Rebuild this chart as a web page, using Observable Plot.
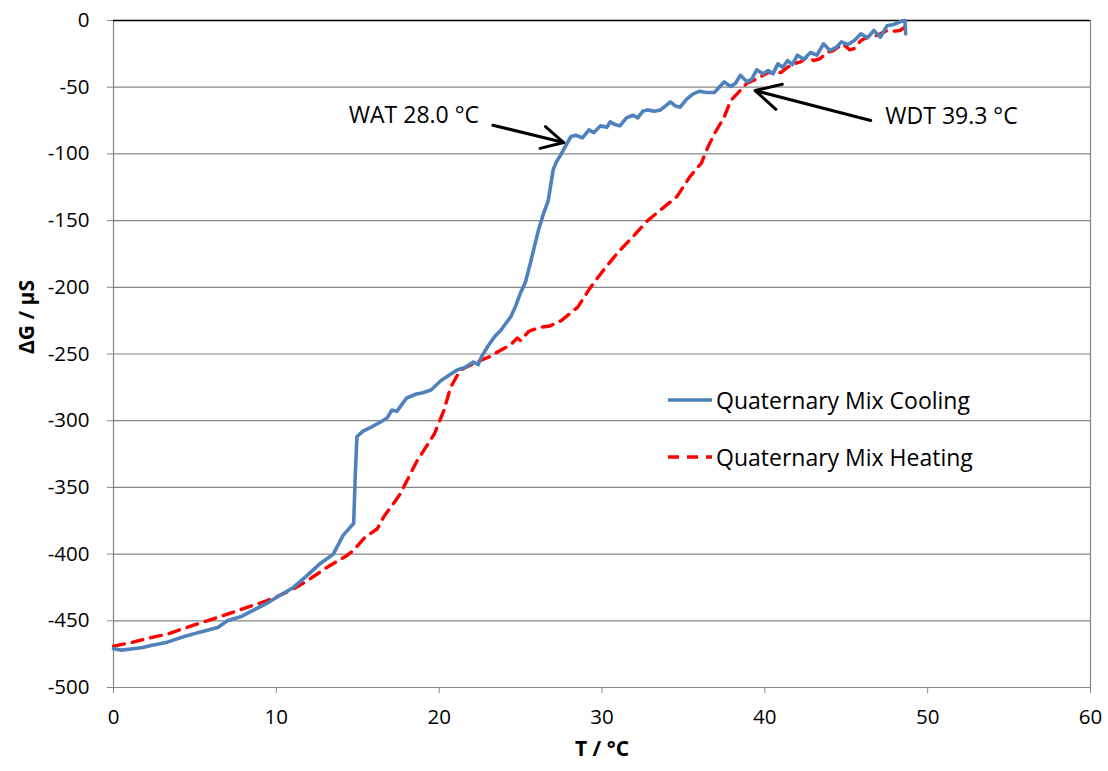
<!DOCTYPE html>
<html>
<head>
<meta charset="utf-8">
<script src="https://cdn.jsdelivr.net/npm/d3@7"></script>
<script src="https://cdn.jsdelivr.net/npm/@observablehq/plot@0.6"></script>
<style>
  html, body { margin: 0; padding: 0; background: #fff; }
  #wrap { position: relative; width: 1108px; height: 771px; font-family: "Open Sans", sans-serif; }
  #legend { position: absolute; left: 668px; top: 381px; font-size: 23px; color: #000; }
  #legend .row { display: flex; align-items: center; height: 38px; margin-bottom: 19px; white-space: nowrap; }
  #legend svg { margin-right: 4px; }
</style>
</head>
<body>
<div id="wrap">
  <div id="chart"></div>
  <div id="legend"></div>
</div>
<script>
// ---- Data ----
const seriesNames = ["Quaternary Mix Cooling", "Quaternary Mix Heating"];
const seriesColors = ["#4F81BD", "#FF0000"];

const coolingT = [0,0.5,1.2,1.8,2.3,3.3,4.3,5.3,6.4,7.0,7.8,8.6,9.4,10.2,11.05,11.9,12.7,13.5,14.1,14.6,14.75,14.85,14.95,15.3,15.8,16.4,16.8,17.1,17.4,18.0,18.6,19.0,19.5,20.1,20.6,21.1,21.6,22.1,22.4,22.6,23.0,23.4,23.8,24.4,24.7,25.0,25.3,25.6,26.1,26.4,26.7,27.0,27.2,27.5,27.9,28.1,28.4,28.8,29.2,29.5,29.9,30.3,30.5,30.8,31.1,31.5,31.9,32.2,32.5,32.8,33.2,33.6,34.0,34.2,34.5,34.8,35.2,35.6,36.0,36.4,36.9,37.2,37.5,37.9,38.2,38.5,38.9,39.2,39.5,39.9,40.2,40.5,40.8,41.1,41.4,41.7,42.0,42.4,42.8,43.2,43.6,44.0,44.4,44.7,45.1,45.5,45.9,46.3,46.7,47.1,47.5,47.9,48.3,48.6,48.65];
const coolingG = [-471,-472,-471,-470,-468.5,-466,-462,-458.5,-455,-450,-447,-442,-437,-431,-425,-416,-407,-400,-386,-379,-377,-340,-312,-308,-305,-301,-298,-292,-293,-283,-280,-279,-277,-270,-266,-262,-260,-256,-258,-252,-244,-237,-232,-222,-214,-204,-196,-182,-157,-145,-135,-112,-106,-100,-91,-87,-86,-88,-82,-84,-79,-80,-76,-78,-79,-73,-71,-73,-68,-67,-68,-67,-63,-61,-64,-65,-59,-55,-53,-54,-54,-50,-46,-49.5,-47,-41,-46,-44,-37,-40,-37.5,-40,-32.5,-35,-30,-33,-26,-29,-24,-26,-17.5,-22.5,-20,-16,-18,-15,-10,-13,-7.5,-12.5,-4,-3,-1,0,-10];

const heatingT = [0,1.2,2.5,3.3,4.5,5.75,7.0,8.2,9.4,10.2,11.05,11.9,13.1,14.35,14.75,15.4,16.2,16.6,17.2,17.6,18.65,19.7,20.3,20.7,21.3,22.5,23.1,23.8,24.4,24.8,25.0,25.5,26.2,26.8,27.5,28.5,29.3,30.1,30.9,31.9,32.8,33.6,34.6,35.4,36.1,36.5,36.9,37.5,37.9,38.3,38.9,39.3,39.7,40.2,41.0,41.4,41.8,42.2,42.6,43.0,43.4,43.8,44.2,44.8,45.2,45.5,45.9,46.3,46.7,47.1,47.5,48.0,48.3,48.6];
const heatingG = [-469,-466,-462,-460,-455,-450,-445,-440,-435,-431,-426,-420,-410,-401,-397,-388,-381,-372,-362,-355,-330,-310,-292,-275,-262,-255,-252,-247,-243,-238,-240,-233,-230,-229,-225,-215,-200,-187,-175,-162,-150,-142,-132,-117,-107,-95,-85,-72.5,-60,-55,-47,-45,-42.5,-39,-39,-35,-32.5,-31,-27.5,-30,-28.5,-24,-22.5,-17.5,-22,-21,-15,-12.5,-12,-10,-7.5,-8,-7.5,-5];

const xTicks = [0,10,20,30,40,50,60];
const yTicks = [-500,-450,-400,-350,-300,-250,-200,-150,-100,-50,0];

const annotLabels = ["WAT 28.0 °C", "WDT 39.3 °C"];
const annotTextT = [22.45, 47.4];
const annotTextG = [-71, -72];
const annotAnchor = ["end", "start"];
const arrowFromT = [23.3, 46.5];
const arrowFromG = [-78.5, -75];
const arrowToT = [27.65, 39.4];
const arrowToG = [-91.5, -52.5];

const xLabel = "T / °C";
const yLabel = "ΔG / µS";

// ---- Build tables ----
const cooling = coolingT.map((t, i) => ({T: t, G: coolingG[i]}));
const heating = heatingT.map((t, i) => ({T: t, G: heatingG[i]}));
const annots = annotLabels.map((s, i) => ({text: s, x: annotTextT[i], y: annotTextG[i], anchor: annotAnchor[i]}));
const arrows = arrowFromT.map((t, i) => ({x1: t, y1: arrowFromG[i], x2: arrowToT[i], y2: arrowToG[i]}));

const font = "'Open Sans', sans-serif";

const chart = Plot.plot({
  width: 1108,
  height: 771,
  marginLeft: 113,
  marginRight: 18,
  marginTop: 20,
  marginBottom: 84,
  style: {fontFamily: font, fontSize: "20.5px", color: "#000", background: "#fff", overflow: "visible"},
  x: {domain: [0, 60], label: null},
  y: {domain: [-500, 0], label: null},
  marks: [
    Plot.gridY(yTicks, {stroke: "#868686", strokeOpacity: 1, strokeWidth: 1.2}),
    Plot.ruleX([60], {stroke: "#868686", strokeWidth: 1.2}),
    Plot.ruleX([0], {stroke: "#868686", strokeWidth: 1.2}),
    Plot.ruleY([0], {stroke: "#000", strokeWidth: 1.5}),
    Plot.axisX({ticks: xTicks, tickSize: 6, tickPadding: 16, stroke: "#868686", fill: "#000", tickFormat: d => String(d), fontSize: 20.5}),
    Plot.axisY({ticks: yTicks, tickSize: 6, tickPadding: 18, stroke: "#868686", fill: "#000", tickFormat: d => String(d), fontSize: 20.5}),
    Plot.text([xLabel], {frameAnchor: "bottom", dy: 68, fontWeight: "bold", fontSize: 21, fill: "#000"}),
    Plot.text([yLabel], {frameAnchor: "left", dx: -86, rotate: -90, fontWeight: "bold", fontSize: 21, fill: "#000"}),
    Plot.line(heating, {x: "T", y: "G", stroke: seriesColors[1], strokeWidth: 3.4, strokeDasharray: "11,8", strokeLinejoin: "round"}),
    Plot.line(cooling, {x: "T", y: "G", stroke: seriesColors[0], strokeWidth: 3.6, strokeLinejoin: "round"}),
    Plot.arrow(arrows, {x1: "x1", y1: "y1", x2: "x2", y2: "y2", stroke: "#000", strokeWidth: 3, headLength: 14, headAngle: 55}),
    Plot.text(annots.filter(d => d.anchor === "end"), {x: "x", y: "y", text: "text", textAnchor: "end", fontSize: 23, fill: "#000"}),
    Plot.text(annots.filter(d => d.anchor === "start"), {x: "x", y: "y", text: "text", textAnchor: "start", fontSize: 23, fill: "#000"})
  ]
});
document.getElementById("chart").appendChild(chart);

// Legend (HTML overlay)
const legend = document.getElementById("legend");
seriesNames.forEach((name, i) => {
  const row = document.createElement("div");
  row.className = "row";
  const dash = i === 1 ? 'stroke-dasharray="11,8"' : "";
  row.innerHTML = `<svg width="44" height="10"><line x1="0" y1="5" x2="44" y2="5" stroke="${seriesColors[i]}" stroke-width="3.4" ${dash}/></svg><span>${name}</span>`;
  legend.appendChild(row);
});
</script>
</body>
</html>
